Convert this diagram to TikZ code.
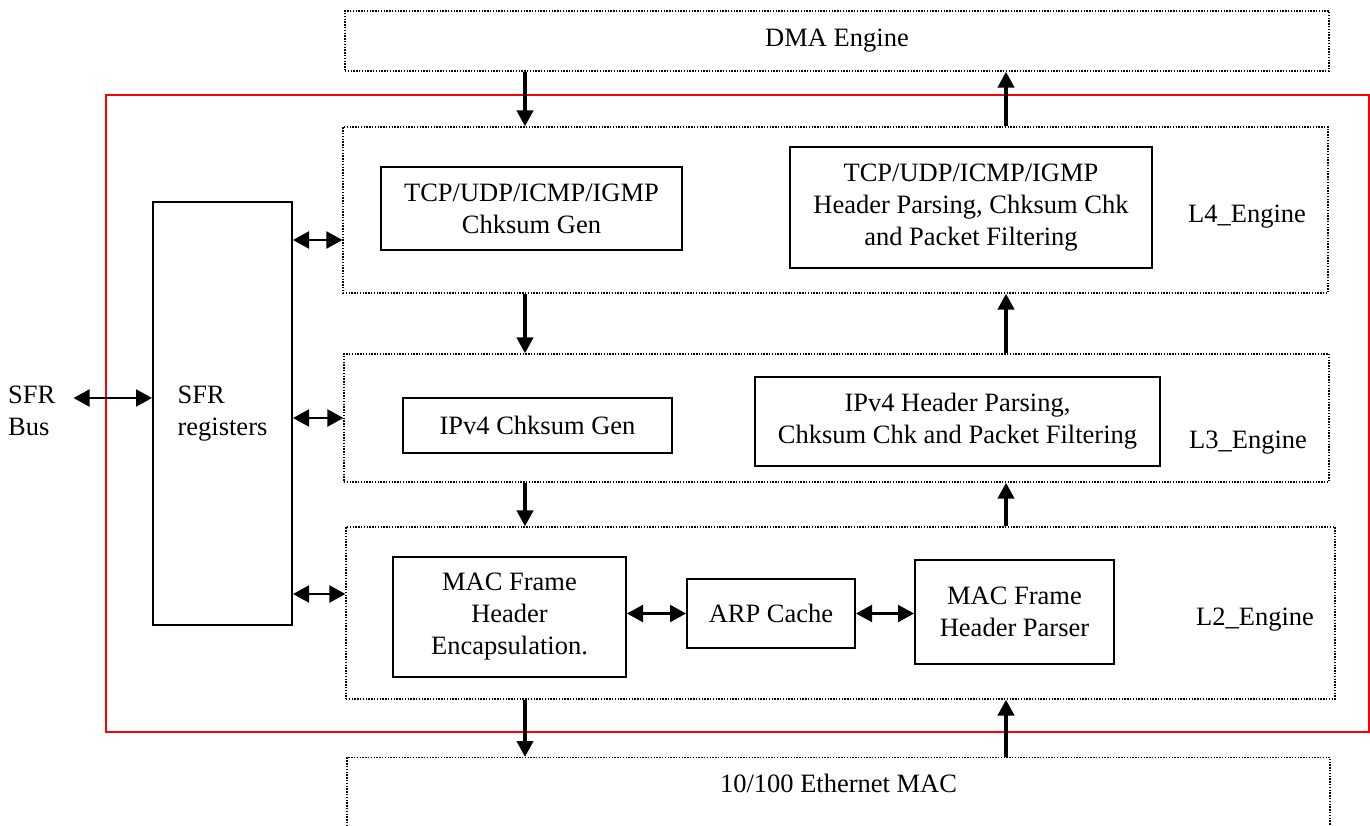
\documentclass[tikz,border=0pt]{standalone}
\usepackage{fontspec}
\setmainfont{Liberation Serif}
\usetikzlibrary{arrows.meta}

\begin{document}
\begin{tikzpicture}[
  x=1pt,y=-1pt,
  font=\fontsize{26.5}{32}\selectfont,
  engine/.style={draw,line width=1.2pt,dash pattern=on 1.4pt off 1.4pt,inner sep=0pt},
  blk/.style={draw,line width=2pt,inner sep=0pt,align=center},
  corebox/.style={draw=red,line width=2pt,inner sep=0pt},
  flow/.style={-{Triangle[length=16pt,width=16pt]},line width=4pt},
  biflow/.style={{Triangle[length=16pt,width=17pt]}-{Triangle[length=16pt,width=17pt]},line width=2.2pt},
]
  \useasboundingbox (0,0) rectangle (1370,825);
  \clip (0,0) rectangle (1370,825);

  \node[corebox,minimum width=1263pt,minimum height=637pt] (core) at (737.5,413.5) {};

  \node[engine,minimum width=984pt,minimum height=60pt] (dma) at (837,41) {DMA Engine};
  \node[engine,minimum width=985pt,minimum height=166pt] (l4) at (835.5,210) {};
  \node[engine,minimum width=985pt,minimum height=128pt] (l3) at (836.5,418) {};
  \node[engine,minimum width=989pt,minimum height=172pt] (l2) at (840.5,613) {};
  \node[engine,minimum width=983pt,minimum height=120pt,anchor=north] (eth) at (838.5,757) {};
  \node (ethname) at ([yshift=-26pt]eth.north) {10/100 Ethernet MAC};

  \node (l4name) at (1247,217) {L4\_Engine};
  \node (l3name) at (1248,443) {L3\_Engine};
  \node (l2name) at (1255,620) {L2\_Engine};

  \node[blk,minimum width=301pt,minimum height=83pt] (tcpgen) at (531.5,208.5) {TCP/UDP/ICMP/IGMP\\Chksum Gen};
  \node[blk,minimum width=362pt,minimum height=121pt] (tcpchk) at (971,207.5) {TCP/UDP/ICMP/IGMP\\Header Parsing, Chksum Chk\\and Packet Filtering};
  \node[blk,minimum width=269pt,minimum height=55pt] (ipgen) at (537.5,425.5) {IPv4 Chksum Gen};
  \node[blk,minimum width=405pt,minimum height=89pt] (ipchk) at (957.5,421.5) {IPv4 Header Parsing,\\Chksum Chk and Packet Filtering};
  \node[blk,minimum width=233pt,minimum height=120pt] (macenc) at (509.5,617) {MAC Frame\\Header\\Encapsulation.};
  \node[blk,minimum width=168pt,minimum height=69pt] (arp) at (771,613.5) {ARP Cache};
  \node[blk,minimum width=199pt,minimum height=104pt] (macpar) at (1014.5,612) {MAC Frame\\Header Parser};

  \node[blk,align=left,minimum width=139pt,minimum height=423pt] (sfr) at (222.5,413.5) {SFR\\registers};
  \node[anchor=west,align=left,inner sep=0pt] (bus) at (8,411) {SFR\\Bus};

  \coordinate (dn) at (525,0);
  \coordinate (up) at (1006,0);
  \draw[flow] (dma.south -| dn) -- (l4.north -| dn);
  \draw[flow] (l4.north -| up) -- (dma.south -| up);
  \draw[flow] (l4.south -| dn) -- (l3.north -| dn);
  \draw[flow] (l3.north -| up) -- (l4.south -| up);
  \draw[flow] (l3.south -| dn) -- (l2.north -| dn);
  \draw[flow] (l2.north -| up) -- (l3.south -| up);
  \draw[flow] (l2.south -| dn) -- (eth.north -| dn);
  \draw[flow] (eth.north -| up) -- (l2.south -| up);

  \coordinate (l4in) at ([yshift=-30pt]l4.west);
  \coordinate (l2in) at ([yshift=19pt]l2.west);
  \coordinate (bustap) at ([xshift=18pt,yshift=13pt]bus.east);
  \draw[biflow] (bustap) -- (sfr.west |- bustap);
  \draw[biflow] (sfr.east |- l4in) -- (l4in);
  \draw[biflow] (sfr.east |- l3.west) -- (l3.west);
  \draw[biflow] (sfr.east |- l2in) -- (l2in);

  \draw[biflow] (macenc.east |- arp.west) -- (arp.west);
  \draw[biflow] (arp.east) -- (macpar.west |- arp.east);
\end{tikzpicture}
\end{document}
